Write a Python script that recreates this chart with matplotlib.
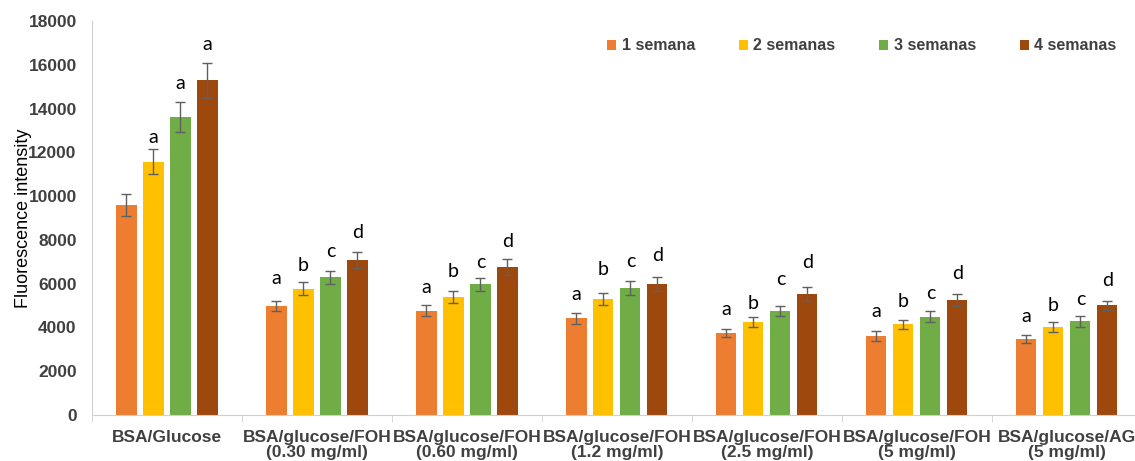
import numpy as np
import matplotlib
matplotlib.use("Agg")
from matplotlib import pyplot as plt

# data
groups = ["BSA/Glucose",
          "BSA/glucose/FOH\n(0.30 mg/ml)",
          "BSA/glucose/FOH\n(0.60 mg/ml)",
          "BSA/glucose/FOH\n(1.2 mg/ml)",
          "BSA/glucose/FOH\n(2.5 mg/ml)",
          "BSA/glucose/FOH\n(5 mg/ml)",
          "BSA/glucose/AG\n(5 mg/ml)"]
series = ["1 semana", "2 semanas", "3 semanas", "4 semanas"]

sem1 = [9600, 5000, 4770, 4420, 3760, 3620, 3490]
sem2 = [11580, 5770, 5390, 5300, 4240, 4140, 4010]
sem3 = [13620, 6290, 5970, 5800, 4750, 4490, 4280]
sem4 = [15300, 7080, 6760, 5990, 5530, 5240, 5010]

err1 = [490, 230, 250, 250, 190, 220, 180]
err2 = [570, 300, 280, 260, 220, 215, 220]
err3 = [700, 310, 310, 300, 250, 240, 250]
err4 = [800, 370, 350, 320, 330, 275, 220]

let1 = ["", "a", "a", "a", "a", "a", "a"]
let2 = ["a", "b", "b", "b", "b", "b", "b"]
let3 = ["a", "c", "c", "c", "c", "c", "c"]
let4 = ["a", "d", "d", "d", "d", "d", "d"]

# heights of the letters (as placed in the figure)
lety1 = [0, 6220, 5840, 5520, 4840, 4750, 4520]
lety2 = [12700, 6810, 6550, 6660, 5100, 5180, 4980]
lety3 = [15130, 7460, 6980, 7010, 6200, 5560, 5260]
lety4 = [16950, 8360, 7920, 7270, 6960, 6480, 6140]

colors = ["#ED7D31", "#FFC000", "#70AD47", "#9E480E"]

vals = [sem1, sem2, sem3, sem4]
errs = [err1, err2, err3, err4]
lets = [let1, let2, let3, let4]
letys = [lety1, lety2, lety3, lety4]

fig = plt.figure(figsize=(11.35, 4.61), dpi=100)
ax = fig.add_axes([0.081, 0.0998, 0.925, 0.8546])

x = np.arange(len(groups))
pitch = 0.18
width = 0.135
for i in range(4):
    xs = x + (i - 1.5) * pitch
    ax.bar(xs, vals[i], width, color=colors[i], label=series[i], zorder=2)
    ax.errorbar(xs, vals[i], yerr=errs[i], fmt="none", ecolor="#606060",
                elinewidth=1, capsize=3.5, capthick=1, zorder=3)
    for xx, t, yy in zip(xs, lets[i], letys[i]):
        if t:
            ax.text(xx, yy, t, ha="center", va="center", fontsize=14,
                    family="Lato", color="black")

ax.set_xlim(-0.5, 6.5)
ax.set_ylim(0, 18000)
ax.set_yticks(np.arange(0, 18001, 2000))
ax.set_xticks(x)
ax.set_xticklabels(groups, fontsize=12.5, fontweight="bold",
                   family="Liberation Sans", color="#404040", linespacing=1.0)
ax.set_xticks(np.arange(-0.5, 7, 1), minor=True)
ax.tick_params(axis="x", which="major", length=0, pad=11)
ax.tick_params(axis="x", which="minor", length=5, color="#d0d0d0")
ax.tick_params(axis="y", length=0, pad=11)
for lab in ax.get_yticklabels():
    lab.set_fontsize(12.5)
    lab.set_fontweight("bold")
    lab.set_family("Liberation Sans")
    lab.set_color("#404040")
ax.set_ylabel("Fluorescence intensity", fontsize=13, family="Liberation Sans",
              color="black", labelpad=-3)

for s in ["top", "right"]:
    ax.spines[s].set_visible(False)
ax.spines["left"].set_color("#d0d0d0")
ax.spines["bottom"].set_color("#d0d0d0")

leg = ax.legend(loc="center right", bbox_to_anchor=(1131 / 1135, 1 - 46 / 461),
                bbox_transform=fig.transFigure, ncol=4,
                frameon=False, handlelength=0.55, handleheight=0.55,
                handletextpad=0.35, columnspacing=2.75,
                prop={"family": "Liberation Sans", "weight": "bold", "size": 11.5})
for t in leg.get_texts():
    t.set_color("#404040")

fig.savefig("out.png", dpi=100)
